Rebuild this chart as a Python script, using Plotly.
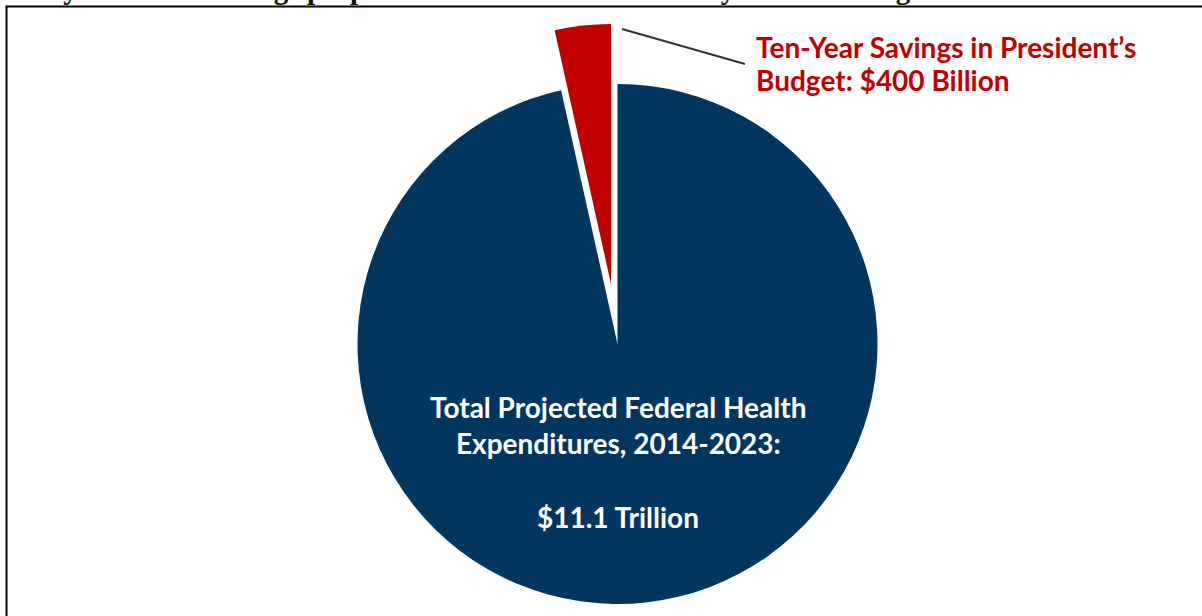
import plotly.graph_objects as go

W, H = 1202, 616

labels = ["Total Projected Federal Health Expenditures, 2014-2023", "Ten-Year Savings in President's Budget"]
values = [11100, 400]  # billions of dollars
colors = ["#03365E", "#C00000"]
transparent = "rgba(0,0,0,0)"

title_text = "Ten-year health savings proposed in the President's fiscal year 2014 budget"
inner_lines = ["Total Projected Federal Health", "Expenditures, 2014-2023:", "$11.1 Trillion"]
red_lines = ["Ten-Year Savings in President’s", "Budget: $400 Billion"]


def px_x(p):
    return p / W


def px_y(p):
    return 1 - p / H


R = 260
main_c = (617.5, 344)
pull_c = (611, 284)

fig = go.Figure()

# main (blue) slice
fig.add_trace(go.Pie(
    labels=labels, values=values, sort=False, direction="clockwise", rotation=0,
    marker=dict(colors=[colors[0], transparent], line=dict(width=0)),
    textinfo="none", hoverinfo="label+value", showlegend=False,
    domain=dict(x=[px_x(main_c[0] - R), px_x(main_c[0] + R)],
                y=[px_y(main_c[1] + R), px_y(main_c[1] - R)]),
))
# pulled-out (red) slice
fig.add_trace(go.Pie(
    labels=labels, values=values, sort=False, direction="clockwise", rotation=0,
    marker=dict(colors=[transparent, colors[1]], line=dict(width=0)),
    textinfo="none", hoverinfo="label+value", showlegend=False,
    domain=dict(x=[px_x(pull_c[0] - R), px_x(pull_c[0] + R)],
                y=[px_y(pull_c[1] + R), px_y(pull_c[1] - R)]),
))

font_main = "Lato, 'Open Sans', sans-serif"
annots = []
# title (mostly cut off at top, as in the source)
annots.append(dict(text="<b>" + title_text + "</b>", x=px_x(6), y=px_y(7), xref="paper", yref="paper",
                   xanchor="left", yanchor="bottom", showarrow=False,
                   font=dict(family="Liberation Serif, Times New Roman, serif", size=29, color="#111")))
# inner white text
for txt, yy in zip(inner_lines, [407, 443, 517]):
    annots.append(dict(text="<b>" + txt + "</b>", x=px_x(618), y=px_y(yy), xref="paper", yref="paper",
                       xanchor="center", yanchor="middle", showarrow=False,
                       font=dict(family=font_main, size=28, color="white")))
# red label
for txt, yy in zip(red_lines, [47, 80]):
    annots.append(dict(text="<b>" + txt + "</b>", x=px_x(754), y=px_y(yy), xref="paper", yref="paper",
                       xanchor="left", yanchor="middle", showarrow=False,
                       font=dict(family=font_main, size=28, color="#C00000")))

shapes = [
    # frame
    dict(type="rect", xref="paper", yref="paper", x0=px_x(6.5), x1=px_x(1230), y0=px_y(640), y1=px_y(6.5),
         line=dict(color="black", width=2), fillcolor="rgba(0,0,0,0)", layer="below"),
    # leader line
    dict(type="line", xref="paper", yref="paper", x0=px_x(622), y0=px_y(29), x1=px_x(745), y1=px_y(64),
         line=dict(color="#333", width=2)),
]

fig.update_layout(
    width=W, height=H, margin=dict(l=0, r=0, t=0, b=0),
    paper_bgcolor="white", plot_bgcolor="white",
    annotations=annots, shapes=shapes, showlegend=False,
)

fig.write_html("out.html")
